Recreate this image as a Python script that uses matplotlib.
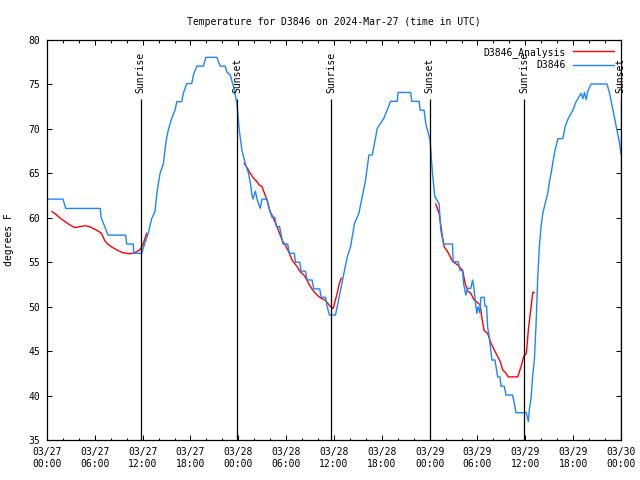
import numpy as np
import pandas as pd
import matplotlib
matplotlib.use("Agg")
import matplotlib.pyplot as plt
import matplotlib.dates as mdates

plt.rcParams["font.family"] = ["DejaVu Sans Mono"]
plt.rcParams["font.size"] = 7

start = pd.Timestamp("2024-03-27 00:00")

# station obs (hours since 03/27 00:00 UTC, degF)
obs_hours = [0.0, 2.0, 2.35, 6.67, 6.8, 7.25, 7.65, 9.86, 10.0, 10.82, 10.9, 11.87,
             12.26, 12.7, 13.13, 13.55, 13.76, 14.18, 14.6, 14.93, 15.22, 15.65, 16.06,
             16.28, 16.9, 17.1, 17.53, 18.16, 18.36, 18.79, 19.62, 19.92, 21.3, 21.72,
             22.35, 22.57, 22.98, 23.4, 23.82, 24.11, 24.45, 24.87, 25.28, 25.58, 25.7,
             25.84, 26.13, 26.38, 26.75, 26.97, 27.6, 27.8, 28.23, 28.58, 28.77, 29.18,
             29.6, 30.19, 30.4, 31.03, 31.16, 31.7, 31.87, 32.42, 32.63, 33.26, 33.46,
             34.21, 34.39, 34.93, 35.14, 35.43, 36.19, 36.4, 36.82, 37.23, 37.66, 38.08,
             38.58, 39.12, 39.55, 39.96, 40.38, 40.8, 41.22, 41.43, 42.26, 43.1, 43.94,
             44.03, 45.62, 45.75, 46.69, 46.79, 47.3, 47.51, 48.05, 48.35, 48.64, 49.18,
             49.4, 49.74, 50.87, 50.94, 51.57, 51.82, 52.13, 52.25, 52.54, 52.75, 53.17,
             53.38, 53.54, 53.71, 53.92, 54.09, 54.3, 54.43, 54.84, 54.93, 55.14, 55.27,
             55.47, 55.81, 56.19, 56.53, 56.82, 56.94, 57.36, 57.57, 58.4, 58.62, 58.83,
             60.13, 60.38, 60.5, 60.72, 60.93, 61.13, 61.35, 61.56, 61.76, 61.97, 62.19,
             62.48, 62.82, 63.02, 63.23, 63.65, 64.08, 64.7, 65.0, 65.33, 65.96, 66.37,
             67.0, 67.22, 67.42, 67.64, 67.85, 68.26, 70.24, 70.57, 70.99, 71.41, 71.82,
             72.0]
obs_temp = [62.1, 62.1, 61.05, 61.05, 60.0, 59.0, 58.05, 58.05, 57.05, 57.05, 56.0, 56.0,
            57.1, 58.25, 59.9, 60.7, 62.6, 65.0, 66.1, 68.6, 69.9, 71.2, 72.1,
            73.06, 73.06, 74.0, 75.1, 75.1, 76.06, 77.06, 77.06, 78.05, 78.05, 77.06,
            77.06, 76.4, 76.06, 74.75, 72.9, 69.9, 67.6, 66.1, 65.0, 63.5, 62.6,
            62.1, 63.0, 62.0, 61.06, 62.1, 62.1, 61.25, 60.05, 60.05, 59.0, 59.0,
            57.05, 57.05, 56.0, 56.0, 55.0, 55.0, 54.0, 54.0, 53.0, 53.0, 52.0,
            52.0, 51.05, 51.05, 50.0, 49.06, 49.06, 50.0, 51.9, 53.75, 55.6, 56.75,
            59.4, 60.5, 62.4, 64.25, 67.06, 67.06, 69.1, 70.06, 71.2, 73.1, 73.1,
            74.1, 74.1, 73.1, 73.1, 72.1, 72.1, 70.6, 68.75, 65.0, 62.4, 61.6,
            58.6, 57.05, 57.05, 55.06, 55.06, 54.06, 54.06, 52.6, 51.3, 52.06, 52.06,
            53.0, 52.2, 50.75, 49.25, 50.0, 49.3, 51.05, 51.05, 50.06, 50.06, 47.75,
            46.6, 44.0, 44.0, 42.1, 42.1, 41.06, 41.06, 40.06, 40.06, 39.1, 38.07,
            38.07, 37.06, 38.4, 39.7, 42.3, 44.0, 48.1, 53.4, 56.75, 59.0, 60.5,
            61.6, 62.75, 64.05, 65.0, 67.25, 68.9, 68.9, 70.25, 71.06, 72.1, 73.06,
            74.0, 73.4, 74.1, 73.3, 74.3, 75.05, 75.05, 74.0, 72.1, 70.25, 68.4,
            67.2]

# analysis (three overnight pieces, NaN = gap)
ana_hours = [0.63, 1.1, 1.6, 2.23, 2.86, 3.48, 4.11, 4.74, 5.37, 5.79, 6.25, 6.84, 7.26,
             7.67, 8.14, 8.73, 9.4, 10.0, 10.4, 10.9, 11.28, 11.66, 12.04, 12.5,
             np.nan,
             24.74, 25.12, 25.5, 25.88, 26.34, 26.63, 26.97, 27.26, 27.6, 28.01, 28.23,
             28.86, 29.48, 29.9, 30.31, 30.74, 31.37, 31.79, 32.29, 32.83, 33.3, 33.89,
             34.3, 34.93, 35.56, 35.9, 36.13, 36.4, 36.63, 36.91,
             np.nan,
             48.76, 49.18, 49.48, 49.81, 50.24, 50.87, 51.5, 52.13, 52.45, 52.83, 53.17,
             53.58, 54.01, 54.34, 54.55, 54.84, 55.27, 55.69, 56.32, 56.86, 57.16, 57.57,
             57.86, 59.04, 59.46, 59.8, 60.13, 60.38, 60.72, 60.93, 61.13]
ana_temp = [60.7, 60.4, 60.0, 59.6, 59.2, 58.9, 59.0, 59.1, 59.0, 58.8, 58.6, 58.25, 57.4,
            57.0, 56.7, 56.4, 56.1, 56.0, 55.95, 56.05, 56.2, 56.4, 57.0, 58.25,
            np.nan,
            66.1, 65.6, 65.0, 64.5, 64.05, 63.7, 63.5, 62.8, 62.0, 60.6, 60.3,
            59.0, 57.5, 56.9, 56.2, 55.25, 54.5, 53.9, 53.5, 52.6, 51.9, 51.3,
            51.0, 50.7, 50.0, 49.8, 50.6, 51.5, 52.5, 53.2,
            np.nan,
            61.55, 60.5, 58.6, 56.75, 56.2, 55.1, 54.7, 54.1, 52.6, 51.7, 51.5,
            50.75, 50.45, 50.2, 48.7, 47.3, 47.0, 45.9, 44.75, 43.8, 42.9, 42.5,
            42.1, 42.1, 43.25, 44.4, 44.75, 47.4, 50.0, 51.6, 51.6]

sun_hours = [11.75, 23.88, 35.65, 47.98, 59.85, 71.98]
sun_labels = ["Sunrise", "Sunset", "Sunrise", "Sunset", "Sunrise", "Sunset"]


def to_time(hours):
    return start + pd.to_timedelta(np.asarray(hours, dtype=float), unit="h")


fig = plt.figure(figsize=(6.4, 4.8), dpi=100)
ax = fig.add_axes([47 / 640, 40 / 480, (621 - 47) / 640, 400 / 480])

ax.plot(to_time(ana_hours), ana_temp, color="#ff0000", lw=1.0, label="D3846_Analysis")
ax.plot(to_time(obs_hours), obs_temp, color="#1a86ff", lw=1.0, label="D3846")

sun_times = to_time(sun_hours)
ax.vlines(sun_times, 35, 73.4, color="black", lw=0.9)
for t, lab in zip(sun_times, sun_labels):
    ax.text(t, 74.0, lab, rotation=90, ha="center", va="bottom", fontsize=7)

ax.set_xlim(start, start + pd.Timedelta(hours=72))
ax.set_ylim(35, 80)
ax.set_yticks(np.arange(35, 81, 5))
ax.xaxis.set_major_locator(mdates.HourLocator(byhour=[0, 6, 12, 18]))
ax.xaxis.set_minor_locator(mdates.HourLocator(byhour=range(0, 24, 2)))
ax.xaxis.set_major_formatter(mdates.DateFormatter("%m/%d\n%H:%M"))

ax.tick_params(which="both", direction="in", top=True, right=True, width=0.75)
ax.tick_params(which="major", length=3.6, pad=5)
ax.tick_params(which="minor", length=1.8)
for s in ax.spines.values():
    s.set_linewidth(0.9)

ax.set_ylabel("degrees F", labelpad=10)
ax.set_title("Temperature for D3846 on 2024-Mar-27 (time in UTC)", fontsize=7, pad=11)

ax.legend(loc="upper right", frameon=False, markerfirst=False, handlelength=4.2,
          borderaxespad=0.3, labelspacing=0.25, handletextpad=0.8)

fig.savefig("out.png", dpi=100)
